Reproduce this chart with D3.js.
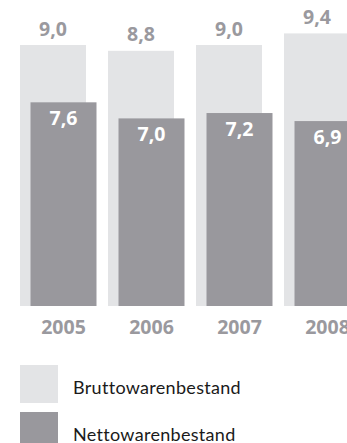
<!DOCTYPE html>
<html>
<head>
<meta charset="utf-8">
<script src="https://cdn.jsdelivr.net/npm/d3@7"></script>
<style>
  html, body { margin: 0; padding: 0; background: #ffffff; overflow: hidden; }
  svg { display: block; }
</style>
</head>
<body>
<div id="chart"></div>
<script>
// Warenbestand je Geschäftsjahr (Mio. EUR)
const years = ["2005", "2006", "2007", "2008"];
const brutto = [9.0, 8.8, 9.0, 9.4];
const netto = [7.6, 7.0, 7.2, 6.9];
const seriesNames = ["Bruttowarenbestand", "Nettowarenbestand"];

const W = 347, H = 443;
const colBrutto = "#e3e4e6";
const colNetto = "#99989d";
const colLabel = "#9a999e";
const fmt = v => d3.format(".1f")(v).replace(".", ",");

const svg = d3.select("#chart").append("svg")
  .attr("width", W).attr("height", H);

const baseY = 306;

const x = d3.scaleBand()
  .domain(years)
  .range([9, 361])
  .paddingInner(0.25)
  .paddingOuter(0.125);

// each series is drawn on its own linear axis from zero
const yBrutto = d3.scaleLinear().domain([0, 10]).range([baseY, baseY - 290]);
const yNetto = d3.scaleLinear().domain([0, 10]).range([baseY, baseY - 268]);

const nettoShift = 10.5;

// Bruttowarenbestand bars
svg.append("g").selectAll("rect")
  .data(years)
  .join("rect")
  .attr("x", d => x(d))
  .attr("y", (d, i) => yBrutto(brutto[i]))
  .attr("width", x.bandwidth())
  .attr("height", (d, i) => baseY - yBrutto(brutto[i]))
  .attr("fill", colBrutto);

// Nettowarenbestand bars
svg.append("g").selectAll("rect")
  .data(years)
  .join("rect")
  .attr("x", d => x(d) + nettoShift)
  .attr("y", (d, i) => yNetto(netto[i]))
  .attr("width", x.bandwidth())
  .attr("height", (d, i) => baseY - yNetto(netto[i]))
  .attr("fill", colNetto);

const valueFont = "'Open Sans', 'DejaVu Sans', sans-serif";

// value labels above the gross bars
svg.append("g").selectAll("text")
  .data(years)
  .join("text")
  .attr("x", d => x(d) + x.bandwidth() / 2)
  .attr("y", (d, i) => yBrutto(brutto[i]) - 9.5)
  .attr("text-anchor", "middle")
  .attr("font-family", valueFont)
  .attr("font-weight", 700)
  .attr("font-size", 19.5)
  .attr("fill", colLabel)
  .text((d, i) => fmt(brutto[i]));

// value labels inside the net bars
svg.append("g").selectAll("text")
  .data(years)
  .join("text")
  .attr("x", d => x(d) + nettoShift + x.bandwidth() / 2)
  .attr("y", (d, i) => yNetto(netto[i]) + 23)
  .attr("text-anchor", "middle")
  .attr("font-family", valueFont)
  .attr("font-weight", 700)
  .attr("font-size", 19.5)
  .attr("fill", "#ffffff")
  .text((d, i) => fmt(netto[i]));

// year axis
const xAxis = d3.axisBottom(x).tickSize(0).tickPadding(0);
const gAxis = svg.append("g")
  .attr("transform", `translate(${nettoShift},${baseY})`)
  .call(xAxis);
gAxis.select(".domain").remove();
gAxis.selectAll("text")
  .attr("dy", null)
  .attr("y", 28)
  .attr("font-family", valueFont)
  .attr("font-weight", 700)
  .attr("font-size", 19.5)
  .attr("fill", colLabel);

// legend
const legend = svg.append("g");
const legendColors = [colBrutto, colNetto];
const legendItems = legend.selectAll("g")
  .data(seriesNames)
  .join("g")
  .attr("transform", (d, i) => `translate(20,${365 + i * 47})`);
legendItems.append("rect")
  .attr("width", 38).attr("height", 38)
  .attr("fill", (d, i) => legendColors[i]);
legendItems.append("text")
  .attr("x", 53)
  .attr("y", 29)
  .attr("font-family", "Lato, 'Open Sans', sans-serif")
  .attr("font-size", 18)
  .attr("letter-spacing", 0.3)
  .attr("fill", "#1a1a1a")
  .text(d => d);
</script>
</body>
</html>
